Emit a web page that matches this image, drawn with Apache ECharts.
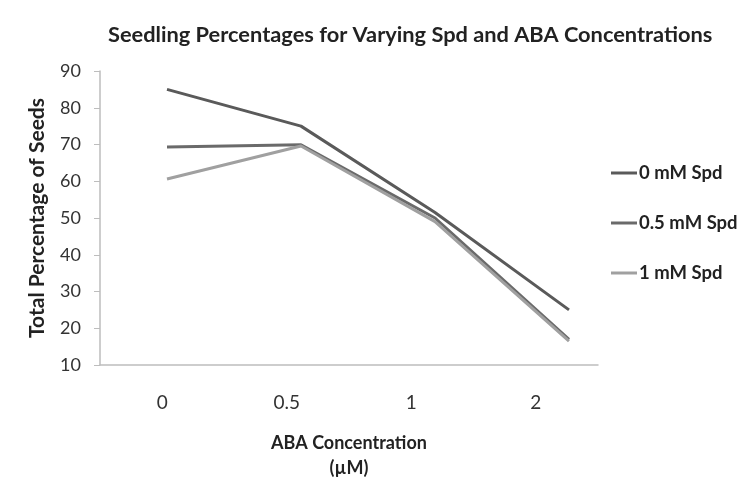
<!DOCTYPE html>
<html>
<head>
<meta charset="utf-8">
<script src="https://cdn.jsdelivr.net/npm/echarts@6/dist/echarts.min.js"></script>
<style>
  html, body { margin: 0; padding: 0; background: #ffffff; }
  #chart { width: 739px; height: 478px; }
</style>
</head>
<body>
<div id="chart"></div>
<script>
// ABA concentration categories (µM)
const categories = ['0', '0.5', '1', '2'];
// Total percentage of seedlings for each spermidine level
const spd0 = [85, 75, 51.5, 25];
const spd05 = [69.3, 69.9, 50, 17];
const spd1 = [60.6, 69.6, 49, 16.5];
const seriesNames = ['0 mM Spd', '0.5 mM Spd', '1 mM Spd'];
const yTicks = { min: 10, max: 90, step: 10 };

const FONT = 'Lato, "Open Sans", sans-serif';
const colors = ['#5a5a5a', '#6a6a6a', '#a0a0a0'];

const chart = echarts.init(document.getElementById('chart'), null, { renderer: 'canvas' });

const yBase = { type: 'value', min: yTicks.min, max: yTicks.max, interval: yTicks.step };

chart.setOption({
  backgroundColor: '#ffffff',
  animation: false,
  title: {
    text: 'Seedling Percentages for Varying Spd and ABA Concentrations',
    left: 103,
    top: 19,
    textStyle: { fontFamily: FONT, fontSize: 21.8, fontWeight: 'bold', color: '#222' }
  },
  legend: {
    orient: 'vertical',
    left: 606,
    top: 158,
    itemGap: 30,
    itemWidth: 26,
    itemHeight: 3,
    icon: 'rect',
    data: seriesNames,
    textStyle: { fontFamily: FONT, fontSize: 18.5, lineHeight: 20, fontWeight: 'bold', color: '#222', padding: [0, 0, 0, -3] }
  },
  grid: [
    { left: 100, top: 71, width: 498, height: 294, containLabel: false, outerBoundsMode: 'none' },
    { left: 100, top: 71, width: 536, height: 294, containLabel: false, outerBoundsMode: 'none' }
  ],
  xAxis: [
    {
      type: 'category', gridIndex: 0, data: categories, boundaryGap: true,
      axisLine: { lineStyle: { color: '#bdbdbd', width: 1.5 } },
      axisTick: { show: false },
      axisLabel: { fontFamily: FONT, fontSize: 19, color: '#333', margin: 28 },
      name: 'ABA Concentration\n(µM)',
      nameLocation: 'middle',
      nameGap: 66,
      nameTextStyle: { fontFamily: FONT, fontSize: 18, fontWeight: 'bold', color: '#222', lineHeight: 25 }
    },
    {
      type: 'category', gridIndex: 1, data: categories, boundaryGap: true, show: false
    }
  ],
  yAxis: [
    Object.assign({}, yBase, {
      gridIndex: 0,
      axisLine: { show: true, lineStyle: { color: '#bdbdbd', width: 1.5 } },
      axisTick: { show: true, length: 6, lineStyle: { color: '#bdbdbd' } },
      splitLine: { show: false },
      axisLabel: { fontFamily: FONT, fontSize: 18, color: '#333', margin: 19 },
      name: 'Total Percentage of Seeds',
      nameLocation: 'middle',
      nameGap: 52,
      nameTextStyle: { fontFamily: FONT, fontSize: 21, fontWeight: 'bold', color: '#222' }
    }),
    Object.assign({}, yBase, { gridIndex: 1, show: false, splitLine: { show: false } })
  ],
  series: [spd0, spd05, spd1].map((vals, i) => ({
    name: seriesNames[i],
    type: 'line',
    xAxisIndex: 1,
    yAxisIndex: 1,
    data: vals,
    symbol: 'none',
    lineStyle: { color: colors[i], width: 3 },
    itemStyle: { color: colors[i] }
  }))
});
</script>
</body>
</html>
